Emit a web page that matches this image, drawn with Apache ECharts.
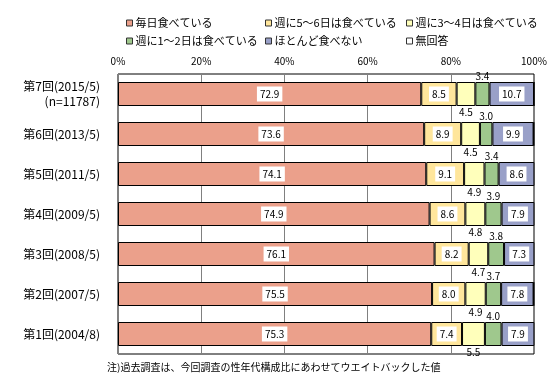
<!DOCTYPE html>
<html>
<head>
<meta charset="utf-8">
<script src="https://cdn.jsdelivr.net/npm/echarts@6/dist/echarts.min.js"></script>
<style>
  html, body { margin: 0; padding: 0; background: #fff; }
  #chart { width: 552px; height: 376px; }
</style>
</head>
<body>
<div id="chart"></div>
<script>
// 第7回が一番上
const rounds = ['第7回(2015/5)\n(n=11787)', '第6回(2013/5)', '第5回(2011/5)', '第4回(2009/5)',
  '第3回(2008/5)', '第2回(2007/5)', '第1回(2004/8)'];
const everyDay = [72.9, 73.6, 74.1, 74.9, 76.1, 75.5, 75.3];
const days5to6 = [8.5, 8.9, 9.1, 8.6, 8.2, 8.0, 7.4];
const days3to4 = [4.5, 4.5, 4.9, 4.8, 4.7, 4.9, 5.5];
const days1to2 = [3.4, 3.0, 3.4, 3.9, 3.8, 3.7, 4.0];
const rarely = [10.7, 9.9, 8.6, 7.9, 7.3, 7.8, 7.9];
const noAnswer = [0, 0.1, 0, 0, 0, 0.1, 0];
const xTicks = [0, 20, 40, 60, 80, 100];

const names = ['毎日食べている', '週に5～6日は食べている', '週に3～4日は食べている',
  '週に1～2日は食べている', 'ほとんど食べない', '無回答'];
const colors = ['#eba08b', '#ffe69c', '#ffffbb', '#9fc88d', '#99a0c8', '#ffffff'];

const font = '"Noto Sans CJK JP", sans-serif';
const fmt = (p) => p.value.toFixed(1);

const boxLabel = {
  show: true,
  position: 'inside',
  color: '#000',
  fontSize: 10,
  fontFamily: font,
  backgroundColor: '#fff',
  padding: [3, 3, 2, 3],
  formatter: fmt,
};

function makeSeries(idx, data, label) {
  return {
    name: names[idx],
    type: 'bar',
    stack: 'total',
    data: data,
    barCategoryGap: '40%',
    itemStyle: { color: colors[idx], borderColor: '#000', borderWidth: 1 },
    label: label,
    emphasis: { disabled: true },
  };
}

const chart = echarts.init(document.getElementById('chart'));

chart.setOption({
  animation: false,
  grid: { left: 118, right: 18, top: 74, bottom: 22, show: true, borderColor: '#000', borderWidth: 1 },
  legend: [
    { data: [names[0], names[3]], left: 121, top: 11 },
    { data: [names[1], names[4]], left: 260, top: 11 },
    { data: [names[2], names[5]], left: 401, top: 11 },
  ].map((l) => Object.assign(l, {
    orient: 'vertical',
    itemWidth: 6,
    itemHeight: 6,
    itemGap: 4,
    icon: 'rect',
    itemStyle: { borderColor: '#333', borderWidth: 1 },
    textStyle: { fontSize: 11, fontFamily: font, color: '#000', lineHeight: 14, padding: [0, 0, 0, -2] },
  })),
  xAxis: {
    type: 'value',
    position: 'top',
    min: 0,
    max: 100,
    interval: 20,
    axisLine: { show: false },
    axisTick: { show: false },
    splitLine: { lineStyle: { color: '#808080', width: 1 } },
    axisLabel: {
      margin: 8,
      fontSize: 10,
      fontFamily: font,
      color: '#000',
      formatter: (v) => (xTicks.includes(v) ? v + '%' : ''),
    },
  },
  yAxis: {
    type: 'category',
    data: rounds,
    inverse: true,
    axisLine: { show: false },
    axisTick: { show: false },
    axisLabel: { margin: 18, fontSize: 12, fontFamily: font, color: '#000', lineHeight: 15 },
  },
  series: [
    makeSeries(0, everyDay, boxLabel),
    makeSeries(1, days5to6, boxLabel),
    makeSeries(2, days3to4, { show: true, position: 'bottom', distance: 1, fontSize: 10, fontFamily: font, color: '#000', formatter: fmt }),
    makeSeries(3, days1to2, { show: true, position: 'top', distance: 1, fontSize: 10, fontFamily: font, color: '#000', formatter: fmt }),
    makeSeries(4, rarely, boxLabel),
    makeSeries(5, noAnswer, { show: false }),
  ],
  graphic: [{
    type: 'text',
    left: 107,
    top: 362,
    style: { text: '注)過去調査は、今回調査の性年代構成比にあわせてウエイトバックした値', fontSize: 10, fontFamily: font, fill: '#000' },
  }],
});
</script>
</body>
</html>
